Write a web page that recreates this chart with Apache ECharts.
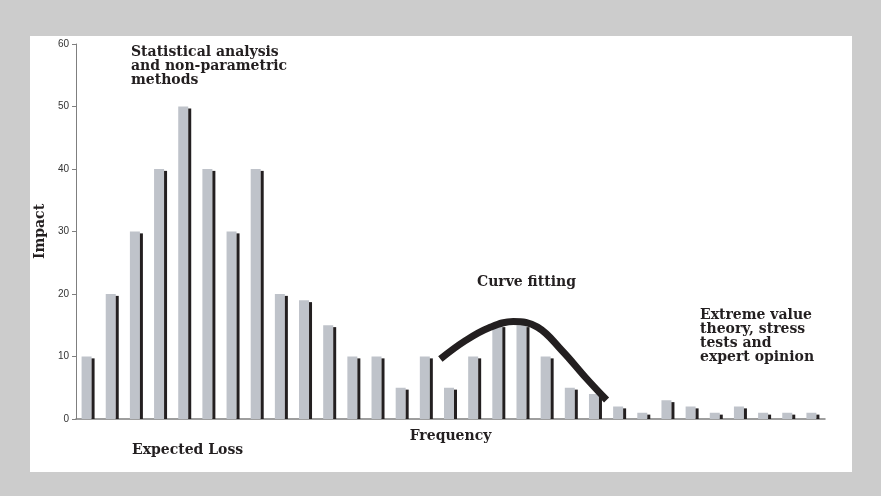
<!DOCTYPE html>
<html>
<head>
<meta charset="utf-8">
<script src="https://cdn.jsdelivr.net/npm/echarts@6/dist/echarts.min.js"></script>
<style>html,body{margin:0;padding:0;background:#cccccc;}#c{width:881px;height:496px;}</style>
</head>
<body>
<div id="c"></div>
<script>
const categories = Array.from({length: 31}, (_, i) => String(i + 1));
const greyValues = [10, 20, 30, 40, 50, 40, 30, 40, 20, 19, 15, 10, 10, 5, 10, 5, 10, 15, 15, 10, 5, 4, 2, 1, 3, 2, 1, 2, 1, 1, 1];
const blackValues = [9.7, 19.7, 29.7, 39.7, 49.7, 39.7, 29.7, 39.7, 19.7, 18.7, 14.7, 9.7, 9.7, 4.7, 9.7, 4.7, 9.7, 14.7, 14.7, 9.7, 4.7, 3.7, 1.7, 0.7, 2.7, 1.7, 0.7, 1.7, 0.7, 0.7, 0.7];
const curveX = [14.58, 15.6, 16.6, 17.6, 18.6, 19.6, 20.6, 21.46];
const curveY = [9.6, 12.5, 14.6, 15.6, 14.7, 11.0, 6.6, 3.04];
const yTicks = [0, 10, 20, 30, 40, 50, 60];

const serif = '"DejaVu Serif", "Liberation Serif", serif';
const sans = '"Liberation Sans", Arial, sans-serif';
const ink = '#231f20';

const chart = echarts.init(document.getElementById('c'), null, {renderer: 'canvas'});
chart.setOption({
  backgroundColor: '#cccccc',
  animation: false,
  graphic: [
    {type: 'rect', z: -10, shape: {x: 30, y: 36, width: 822, height: 436}, style: {fill: '#ffffff'}},
    {type: 'text', left: 131, top: 45, style: {text: 'Statistical analysis\nand non-parametric\nmethods', font: 'bold 14px ' + serif, fill: ink, lineHeight: 14}},
    {type: 'text', left: 477, top: 275, style: {text: 'Curve fitting', font: 'bold 14px ' + serif, fill: ink}},
    {type: 'text', left: 700, top: 308, style: {text: 'Extreme value\ntheory, stress\ntests and\nexpert opinion', font: 'bold 14px ' + serif, fill: ink, lineHeight: 14}},
    {type: 'text', left: 132, top: 443, style: {text: 'Expected Loss', font: 'bold 14px ' + serif, fill: ink}}
  ],
  grid: {left: 76, right: 56, top: 44, bottom: 77, outerBoundsMode: 'none', containLabel: false},
  xAxis: [
    {
      type: 'category', data: categories, boundaryGap: true,
      name: 'Frequency', nameLocation: 'middle', nameGap: 10,
      nameTextStyle: {fontFamily: serif, fontWeight: 'bold', fontSize: 14, color: ink},
      axisLine: {lineStyle: {color: '#7f7f7f', width: 1.5}},
      axisTick: {show: false}, axisLabel: {show: false}
    },
    {type: 'value', min: -0.5, max: 30.5, show: false}
  ],
  yAxis: {
    type: 'value', min: 0, max: 60, interval: 10,
    name: 'Impact', nameLocation: 'middle', nameGap: 28, nameRotate: 90,
    nameTextStyle: {fontFamily: serif, fontWeight: 'bold', fontSize: 14, color: ink},
    axisLine: {show: true, onZero: false, lineStyle: {color: '#7f7f7f', width: 1}},
    axisTick: {show: true, inside: false, length: 4, lineStyle: {color: '#7f7f7f'}},
    axisLabel: {fontFamily: sans, fontSize: 10, color: '#333', margin: 7, formatter: v => yTicks.includes(v) ? String(v) : ''},
    splitLine: {show: false}
  },
  series: [
    {type: 'bar', data: greyValues, barWidth: 10, barGap: '0%', itemStyle: {color: '#bfc3ca'}},
    {type: 'bar', data: blackValues, barWidth: 3, barGap: '0%', itemStyle: {color: ink}},
    {type: 'line', xAxisIndex: 1, data: curveX.map((x, i) => [x, curveY[i]]), smooth: 0.4, showSymbol: false, symbol: 'none',
     lineStyle: {color: ink, width: 7, cap: 'butt', join: 'round'}, z: 5}
  ]
});
</script>
</body>
</html>
